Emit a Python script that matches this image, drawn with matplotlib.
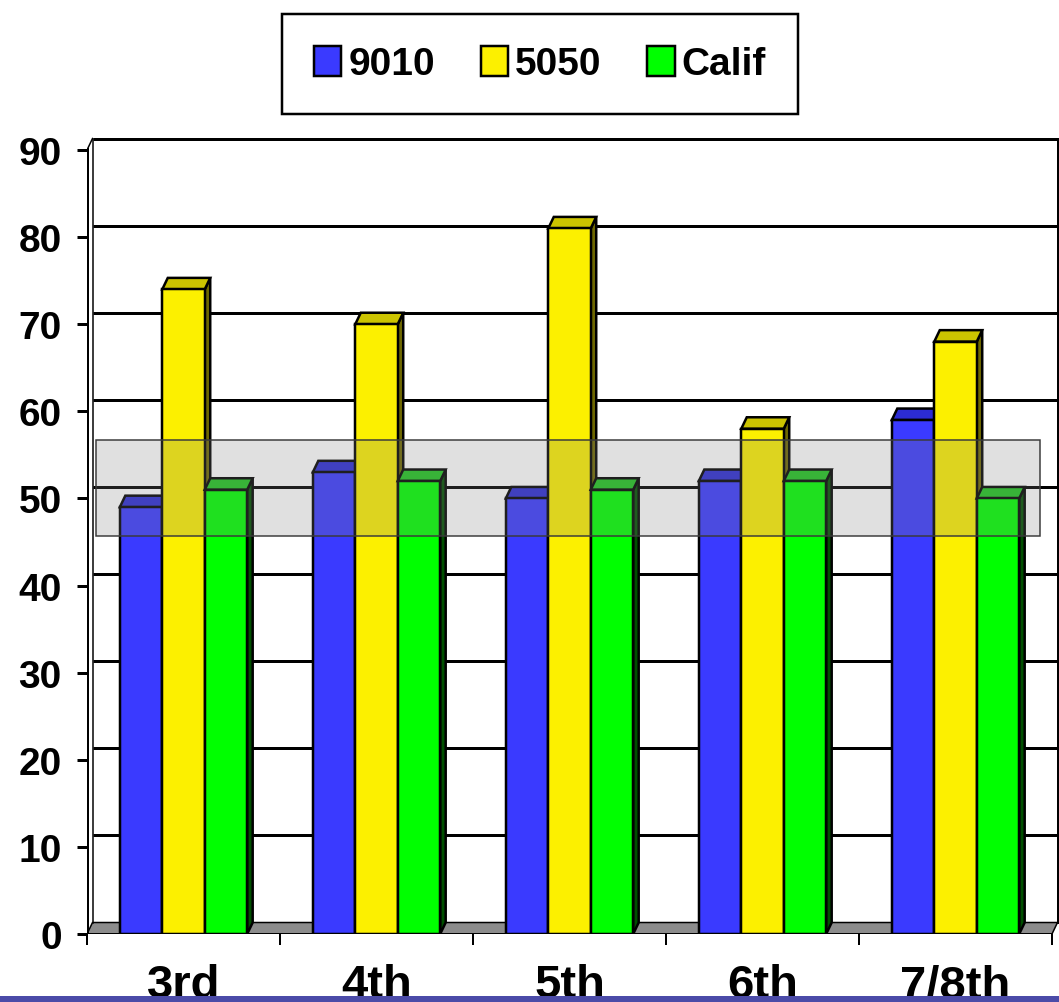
import matplotlib
matplotlib.use("Agg")
import matplotlib.pyplot as plt
from matplotlib.patches import Polygon, Rectangle, Patch

plt.rcParams["font.family"] = ["Liberation Sans", "DejaVu Sans"]

# ---- data ----
grades = ["3rd", "4th", "5th", "6th", "7/8th"]
series_names = ["9010", "5050", "Calif"]
s9010 = [49, 53, 50, 52, 59]
s5050 = [74, 70, 81, 58, 68]
calif = [51, 52, 51, 52, 50]
y_ticks = [0, 10, 20, 30, 40, 50, 60, 70, 80, 90]

series_values = [s9010, s5050, calif]
front_colors = ["#3a3aff", "#fcf000", "#00ff00"]
top_colors = ["#2c2cd4", "#ccc400", "#22c422"]
side_colors = ["#0c0c50", "#6e6800", "#005000"]

# ---- figure / axes ----
W, H = 1059, 1003
X_PX, Y_PX = 193.0, 8.711          # pixels per category / per unit value
fig = plt.figure(figsize=(W / 100, H / 100), dpi=100)
fig.patch.set_facecolor("white")
ax = fig.add_axes([87 / W, 68 / H, 972 / W, 797 / H])
ax.set_xlim(0, 972 / X_PX)
ax.set_ylim(0, 797 / Y_PX)
for sp in ax.spines.values():
    sp.set_visible(False)

ncat = len(grades)
ymax = y_ticks[-1]
ddx, ddy = 5.5 / X_PX, 11.5 / Y_PX   # depth of the pseudo-3D view
px = 0.72                            # points per pixel

# floor
ax.add_patch(Polygon([(0, 0), (ncat, 0), (ncat + ddx, ddy), (ddx, ddy)],
                     closed=True, facecolor="#8c8c8c", edgecolor="black",
                     linewidth=1.5 * px, zorder=1))
# back wall gridlines and edges
for v in y_ticks[1:]:
    ax.plot([ddx, ncat + ddx], [v + ddy, v + ddy], color="black",
            linewidth=3 * px, zorder=1, solid_capstyle="butt")
ax.plot([ddx, ddx], [ddy, ymax + ddy], color="black", linewidth=1.5 * px, zorder=1)
ax.plot([ncat + ddx, ncat + ddx], [ddy, ymax + ddy], color="black",
        linewidth=2 * px, zorder=1, clip_on=False)

# bars: side face, top face, front face
w = 0.22
for s, vals in enumerate(series_values):
    for i, v in enumerate(vals):
        x0 = i + 0.5 + (s - 1.5) * w
        x1 = x0 + w
        z = 3 + s * 0.1 + i * 0.01
        ax.add_patch(Polygon([(x1, 0), (x1 + ddx, ddy), (x1 + ddx, v + ddy), (x1, v)],
                             closed=True, facecolor=side_colors[s], edgecolor="black",
                             linewidth=2.5 * px, zorder=z))
        ax.add_patch(Polygon([(x0, v), (x1, v), (x1 + ddx, v + ddy), (x0 + ddx, v + ddy)],
                             closed=True, facecolor=top_colors[s], edgecolor="black",
                             linewidth=2.5 * px, zorder=z))
        ax.bar(x0, v, width=w, align="edge", color=front_colors[s],
               edgecolor="black", linewidth=2.5 * px, zorder=z + 0.001)

# front axes lines
ax.plot([0, 0], [0, ymax], color="black", linewidth=4 * px, zorder=6,
        solid_capstyle="projecting")
ax.plot([0, ddx], [ymax, ymax + ddy], color="black", linewidth=1.5 * px, zorder=6)
ax.plot([0, ncat], [0, 0], color="black", linewidth=3 * px, zorder=6,
        solid_capstyle="butt")

# highlighted band across the middle range
ax.add_patch(Rectangle((0.047, 45.7), 4.893, 11.0, facecolor=(0.5, 0.5, 0.5, 0.245),
                       edgecolor="#3a3a3a", linewidth=1.5 * px, zorder=8))

# ticks and labels
ax.set_yticks(y_ticks)
ax.set_yticklabels([str(t) for t in y_ticks], fontsize=28, fontweight="bold")
ax.tick_params(axis="y", direction="out", length=10 * px, width=3 * px, pad=11)
ax.set_xticks(range(ncat + 1))
ax.set_xticklabels([""] * (ncat + 1))
ax.tick_params(axis="x", which="major", direction="out", length=11 * px, width=2 * px)
ax.set_xticks([i + 0.5 for i in range(ncat)], minor=True)
ax.set_xticklabels(grades, minor=True, fontsize=34, fontweight="bold")
ax.tick_params(axis="x", which="minor", length=0, pad=21)

# legend
handles = [Patch(facecolor=c, edgecolor="black", linewidth=2.5 * px) for c in front_colors]
leg = fig.legend(handles, series_names, loc="center",
                 bbox_to_anchor=(540 / W, 1 - 65 / H), ncol=3,
                 prop=dict(family="Liberation Sans", weight="bold", size=28),
                 frameon=True, fancybox=False, borderpad=0.82,
                 handlelength=0.7, handleheight=0.8, handletextpad=0.18,
                 columnspacing=1.18, borderaxespad=0)
leg.get_frame().set_edgecolor("black")
leg.get_frame().set_linewidth(2.5 * px)
leg.get_frame().set_alpha(1)

# slide rule along the bottom edge
fig.patches.append(Rectangle((0, 0), 1, 6 / H, transform=fig.transFigure,
                             facecolor="#4b4ba8", edgecolor="none", zorder=10))

fig.savefig("out.png", dpi=100)
